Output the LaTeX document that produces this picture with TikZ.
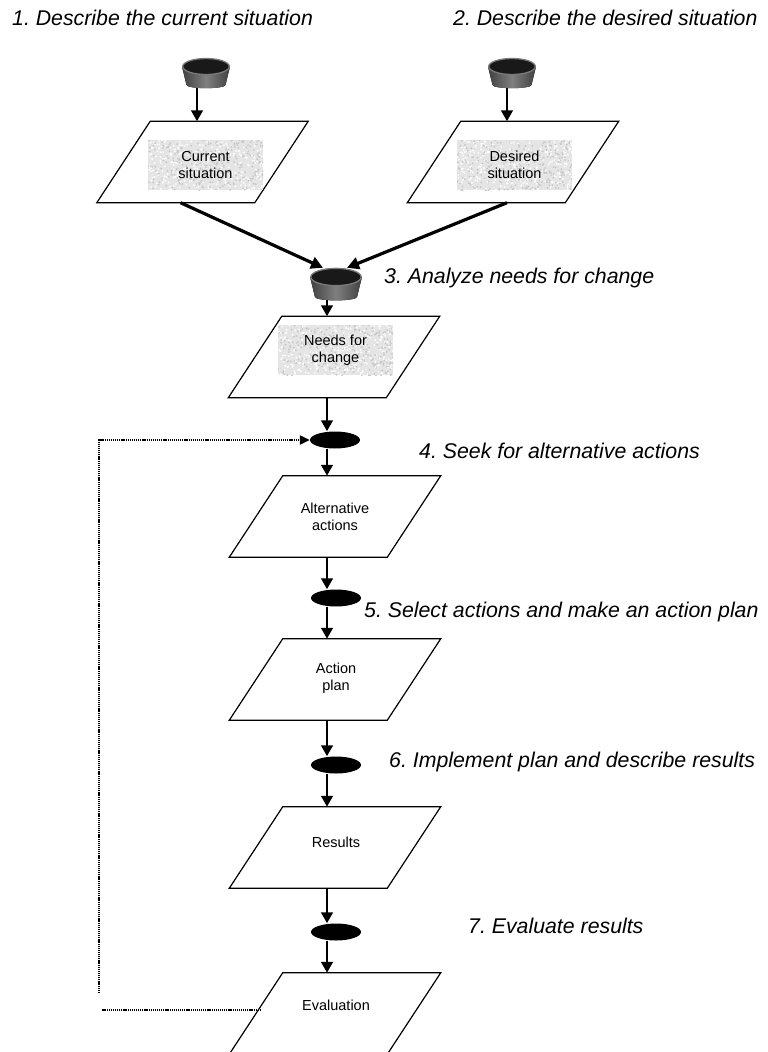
\documentclass[tikz,border=0pt]{standalone}
\usepackage{fontspec}
\setmainfont{Liberation Sans}
\usetikzlibrary{arrows.meta,calc,shapes.geometric}
\frenchspacing

\newcommand\flownotefont{\fontsize{21.3}{24}\selectfont\itshape}
\newcommand\flowboxfont{\fontsize{14.5}{16.8}\selectfont}
% parallelogram drawn inside the bounding box of a named node
\newcommand\drawpara[1]{\draw[parline] (#1.south west) -- ++(158,0) -- (#1.north east) -- ++(-158,0) -- cycle;}

\tikzset{
  flow/.style={line width=2.9pt, -{Triangle[length=11pt,width=11.5pt]}},
  merge/.style={line width=3.2pt, -{Triangle[length=12pt,width=12pt]}},
  feedback/.style={line width=2.2pt, dash pattern=on 1.2pt off 0.9pt},
  parabox/.style={minimum width=211pt, minimum height=81pt, inner sep=0pt},
  parline/.style={line width=1.2pt, fill=white},
  grainbox/.style={minimum width=115pt, minimum height=50pt, inner sep=0pt,
    fill=black!10, align=center, font=\flowboxfont,
    path picture={
      \foreach \k in {1,...,300}{
        \fill[black!22] ([shift={(rand*58,rand*26)}]path picture bounding box.center) circle (1pt);
        \fill[white] ([shift={(rand*58,rand*26)}]path picture bounding box.center) circle (1pt);
      }
    }},
  boxtext/.style={align=center, font=\flowboxfont, inner sep=0pt},
  stepnote/.style={anchor=base west, font=\flownotefont, inner sep=0pt},
  hub/.style={ellipse, fill=black, minimum width=50pt, minimum height=17pt, inner sep=0pt},
  cupbox/.style={minimum width=48pt, minimum height=30pt, inner sep=0pt},
  cup/.pic={
    \fill[left color=black!75, right color=black!75, middle color=black!50]
      (-24,-6.5) -- (-19.5,12) arc[start angle=180,end angle=0,x radius=19.5,y radius=3.2] -- (24,-6.5) -- cycle;
    \filldraw[fill=black!90, draw=black!52, line width=1.3pt] (0,-6.5) ellipse[x radius=23.3, y radius=8];
  }
}

\begin{document}
\begin{tikzpicture}[x=1pt,y=-1pt]
\pgfmathsetseed{11}
\useasboundingbox (0,0) rectangle (768,1052);
\fill[white] (0,0) rectangle (768,1052);
\clip (0,0) rectangle (768,1052);

% step captions
\node[stepnote] (s1) at (12,25) {1. Describe the current situation};
\node[stepnote] (s2) at (453,25) {2. Describe the desired situation};
\node[stepnote] (s3) at (384,283) {3. Analyze needs for change};
\node[stepnote] (s4) at (419,458) {4. Seek for alternative actions};
\node[stepnote] (s5) at (364,617) {5. Select actions and make an action plan};
\node[stepnote] (s6) at (389,767) {6. Implement plan and describe results};
\node[stepnote] (s7) at (468,933) {7. Evaluate results};

% data parallelograms
\node[parabox] (p1) at (202.5,162) {}; \drawpara{p1}
\node[parabox] (p2) at (513,162) {};   \drawpara{p2}
\node[parabox] (p3) at (334,357) {};   \drawpara{p3}
\node[parabox] (p4) at (335,516.5) {}; \drawpara{p4}
\node[parabox] (p5) at (335,679.5) {}; \drawpara{p5}
\node[parabox] (p6) at (335,847.5) {}; \drawpara{p6}
\node[parabox] (p7) at (335,1013.5) {}; \drawpara{p7}

% contents
\node[grainbox] (t1) at (205.5,165) {Current\\situation};
\node[grainbox] (t2) at (514.5,165) {Desired\\situation};
\node[grainbox] (t3) at (335.5,350) {Needs for\\change};
\node[boxtext] (t4) at (335,517) {Alternative\\actions};
\node[boxtext] (t5) at (336,678) {Action\\plan};
\node[boxtext] (t6) at (336,842) {Results};
\node[boxtext] (t7) at (336,1005) {Evaluation};

% process symbols
\node[cupbox] (c1) at (206,73) {};
\node[cupbox] (c2) at (512,73) {};
\node[cupbox, minimum width=52pt, minimum height=32pt] (c3) at (336,284) {};
\node[hub] (e4) at (335,440) {};
\node[hub] (e5) at (336,598) {};
\node[hub] (e6) at (336,765) {};
\node[hub] (e7) at (336,932) {};

% connectors
\coordinate (a1) at (197,0);
\coordinate (a2) at (507,0);
\coordinate (spine) at (327,0);
\draw[flow] (c1.south -| a1) -- (p1.north -| a1);
\draw[flow] (c2.south -| a2) -- (p2.north -| a2);
\draw[merge] ([xshift=-22]p1.south) -- ([xshift=-13]c3.north);
\draw[merge] ([xshift=-6]p2.south) -- ([xshift=11]c3.north);
\draw[flow] (c3.south -| spine) -- (p3.north -| spine);
\draw[flow] (p3.south -| spine) -- (e4.north -| spine);
\draw[flow] (e4.south -| spine) -- (p4.north -| spine);
\draw[flow] (p4.south -| spine) -- (e5.north -| spine);
\draw[flow] (e5.south -| spine) -- (p5.north -| spine);
\draw[flow] (p5.south -| spine) -- (e6.north -| spine);
\draw[flow] (e6.south -| spine) -- (p6.north -| spine);
\draw[flow] (p6.south -| spine) -- (e7.north -| spine);
\draw[flow] (e7.south -| spine) -- (p7.north -| spine);

% feedback loop
\coordinate (fbEnd) at (261,1010);
\coordinate (fbA) at (102,1010);
\coordinate (fbB) at (99,993);
\coordinate (fbC) at (99,440);
\draw[feedback] (fbEnd) -- (fbA);
\draw[feedback, -{Triangle[length=10pt,width=9pt]}] (fbB) -- (fbC) -- (e4.west);

% cups
\pic at (c1) {cup};
\pic at (c2) {cup};
\pic[scale=1.08] at (c3) {cup};
\end{tikzpicture}
\end{document}
